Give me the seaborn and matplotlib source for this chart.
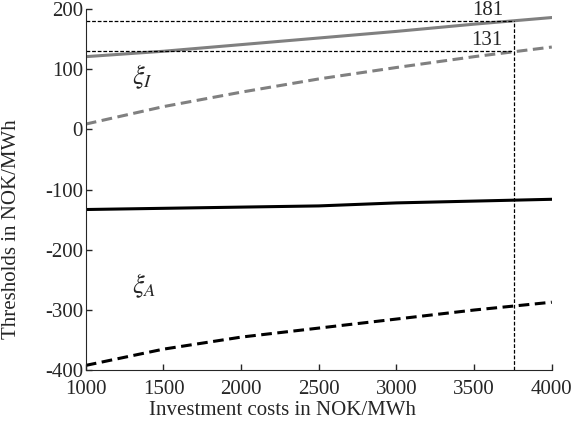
import pandas as pd
import matplotlib
matplotlib.use('Agg')
import matplotlib.pyplot as plt
import seaborn as sns

# Investment costs (NOK/MWh) and thresholds
cost = [1000, 1500, 2000, 2500, 3000, 3500, 4000]
xi_I_upper = [121, 130, 141, 152, 163, 175, 186]      # grey solid
xi_I_lower = [9, 38, 62, 84, 103, 121, 137]           # grey dashed
xi_A_upper = [-133, -131, -129, -127, -122, -119, -116]  # black solid
xi_A_lower = [-392, -365, -345, -330, -315, -300, -287]  # black dashed

cut_cost = 3755
cut_hi = 181
cut_lo = 131

sns.set_style('ticks')
plt.rcParams['font.family'] = ['Liberation Serif', 'DejaVu Serif']
plt.rcParams['mathtext.fontset'] = 'stix'
plt.rcParams['axes.unicode_minus'] = False
plt.rcParams['xtick.direction'] = 'in'
plt.rcParams['ytick.direction'] = 'in'

data = pd.DataFrame({'cost': cost, 'iu': xi_I_upper, 'il': xi_I_lower,
                     'au': xi_A_upper, 'al': xi_A_lower})

fig = plt.figure(figsize=(5.76, 4.34), dpi=100)
ax = fig.add_axes([0.149, 0.147, 0.809, 0.832])

grey = '#808080'
dash = (0, (3.5, 1.8))
sns.lineplot(data=data, x='cost', y='iu', ax=ax, color=grey, lw=2.2)
sns.lineplot(data=data, x='cost', y='il', ax=ax, color=grey, lw=2.2, linestyle=dash)
sns.lineplot(data=data, x='cost', y='au', ax=ax, color='black', lw=2.2)
sns.lineplot(data=data, x='cost', y='al', ax=ax, color='black', lw=2.2, linestyle=dash)

# reference lines
ref = dict(color='black', lw=0.9, ls=(0, (3, 1.5)))
ax.plot([1000, cut_cost], [cut_hi, cut_hi], **ref)
ax.plot([1000, cut_cost], [cut_lo, cut_lo], **ref)
ax.plot([cut_cost, cut_cost], [-400, cut_hi], **ref)
ax.text(cut_cost - 70, cut_hi + 1, str(cut_hi), ha='right', va='bottom', fontsize=15)
ax.text(cut_cost - 70, cut_lo + 1, str(cut_lo), ha='right', va='bottom', fontsize=15)

ax.text(1300, 87, r'$\xi_I$', fontsize=19, va='center')
ax.text(1300, -259, r'$\xi_A$', fontsize=19, va='center')

ax.set_xlim(1000, 4000)
ax.set_ylim(-400, 200)
ax.set_xticks(range(1000, 4001, 500))
ax.set_yticks(range(-400, 201, 100))
ax.tick_params(labelsize=15, length=4, width=1)
ax.tick_params(axis='y', pad=2)
ax.tick_params(axis='x', pad=7)
ax.set_xlabel('Investment costs in NOK/MWh', fontsize=15)
ax.set_ylabel('Thresholds in NOK/MWh', fontsize=15)
ax.xaxis.set_label_coords(0.423, -0.112)
ax.yaxis.set_label_coords(-0.159, 0.39)
ax.xaxis.label.set_va('center')
ax.yaxis.label.set_va('center')
sns.despine(ax=ax)

fig.savefig('out.png', dpi=100)
